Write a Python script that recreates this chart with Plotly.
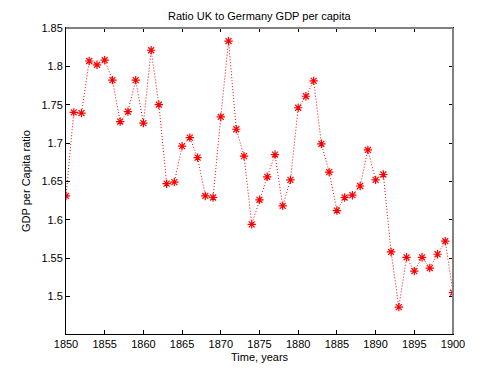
import plotly.graph_objects as go

years = list(range(1850, 1901))
ratio = [1.631, 1.740, 1.739, 1.807, 1.802, 1.808, 1.782, 1.728, 1.741, 1.782,
         1.726, 1.821, 1.750, 1.647, 1.649, 1.696, 1.707, 1.681, 1.631, 1.629,
         1.734, 1.833, 1.718, 1.683, 1.594, 1.626, 1.656, 1.685, 1.618, 1.652,
         1.746, 1.761, 1.781, 1.699, 1.662, 1.612, 1.629, 1.632, 1.644, 1.691,
         1.652, 1.659, 1.558, 1.486, 1.551, 1.533, 1.551, 1.537, 1.555, 1.572,
         1.505]

x_ticks = list(range(1850, 1901, 5))
y_ticks = [1.5, 1.55, 1.6, 1.65, 1.7, 1.75, 1.8, 1.85]
y_ticktext = ["1.5", "1.55", "1.6", "1.65", "1.7", "1.75", "1.8", "1.85"]

FAM = "Liberation Sans, Arial, sans-serif"
font = dict(family=FAM, size=11, color="black")

W, H = 500, 375
# page body has an 8px offset; margins account for it
L, R, T, B = 58, 55, 20, 49

fig = go.Figure()
fig.add_trace(go.Scatter(
    x=years, y=ratio, mode="lines+markers",
    line=dict(color="red", width=1, dash="1px,2px"),
    marker=dict(symbol="asterisk-open", size=7, color="red",
                line=dict(color="red", width=1.2)),
    showlegend=False,
))

ph = H - T - B
pw = W - L - R

fig.update_layout(
    width=W, height=H,
    margin=dict(l=L, r=R, t=T, b=B, autoexpand=False),
    paper_bgcolor="white", plot_bgcolor="white",
    font=font,
    xaxis=dict(range=[1850, 1900], tickvals=x_ticks, ticks="inside", ticklen=4,
               tickcolor="black", showline=True, linecolor="black", linewidth=1,
               mirror="ticks", showgrid=False, zeroline=False, automargin=False,
               tickfont=font),
    yaxis=dict(range=[1.451, 1.85], tickvals=y_ticks, ticktext=y_ticktext,
               ticks="inside", ticklen=4, tickcolor="black", showline=True,
               linecolor="black", linewidth=1, mirror="ticks", showgrid=False,
               zeroline=False, automargin=False, tickfont=font),
    shapes=[
        dict(type="line", xref="paper", yref="paper", x0=0, x1=1, y0=1, y1=1,
             line=dict(color="#808080", width=2), layer="above"),
        dict(type="line", xref="paper", yref="paper", x0=1, x1=1, y0=0, y1=1,
             line=dict(color="#808080", width=2), layer="above"),
    ],
    annotations=[
        dict(text="Ratio UK to Germany GDP per capita", xref="paper", yref="paper",
             x=0.5, y=1 + (T - 8) / ph, xanchor="center", yanchor="middle",
             showarrow=False, font=font),
        dict(text="Time, years", xref="paper", yref="paper",
             x=0.5, y=-(349 - (H - B)) / ph, xanchor="center", yanchor="middle",
             showarrow=False, font=font),
        dict(text="GDP per Capita ratio", xref="paper", yref="paper",
             x=-(L - 18) / pw, y=0.5, xanchor="center", yanchor="middle",
             textangle=-90, showarrow=False, font=font),
    ],
)

fig.write_html("out.html")
